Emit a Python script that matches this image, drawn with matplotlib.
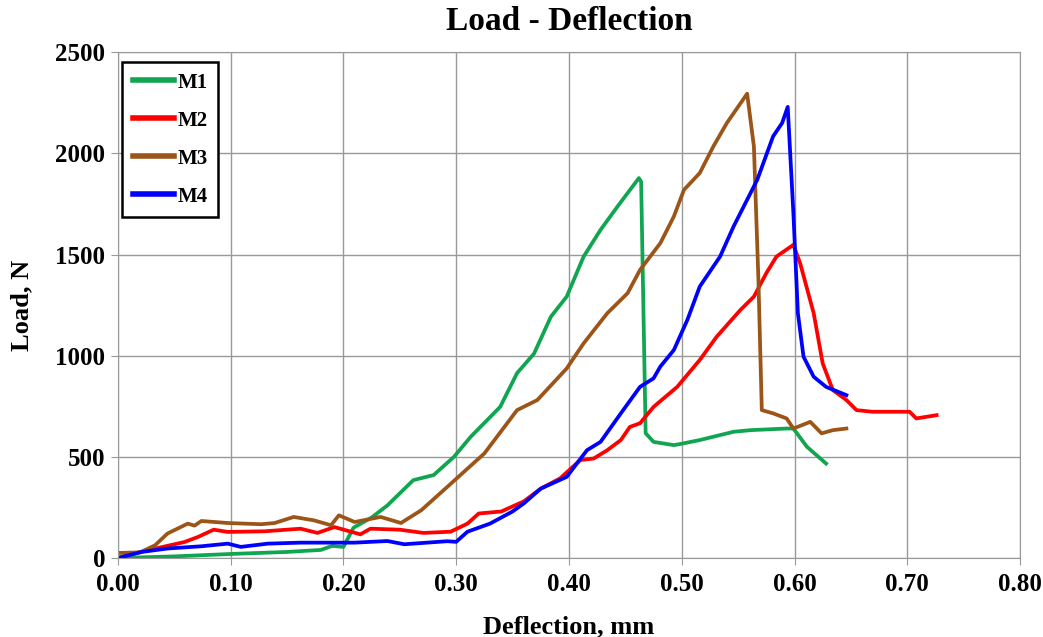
import matplotlib
matplotlib.use("Agg")
import matplotlib.pyplot as plt

plt.rcParams['font.family'] = ['Liberation Serif', 'DejaVu Serif']
plt.rcParams['font.weight'] = 'bold'

# deflection (mm) / load (N) for each specimen
m1_x = [0.0, 0.05, 0.10, 0.15, 0.18, 0.19, 0.20, 0.209, 0.225, 0.239, 0.262, 0.28, 0.298,
        0.313, 0.339, 0.354, 0.369, 0.384, 0.398, 0.413, 0.428, 0.443, 0.462, 0.464,
        0.468, 0.475, 0.493, 0.50, 0.516, 0.546, 0.561, 0.593, 0.599, 0.611, 0.628]
m1_y = [0, 8, 20, 30, 40, 60, 55, 150, 200, 260, 385, 410, 500,
        600, 747, 914, 1010, 1193, 1292, 1490, 1622, 1737, 1878, 1860,
        617, 574, 558, 565, 583, 624, 632, 640, 640, 550, 467]

m2_x = [0.0, 0.02, 0.059, 0.071, 0.085, 0.0975, 0.13, 0.162, 0.177, 0.192, 0.215, 0.224,
        0.25, 0.271, 0.295, 0.31, 0.32, 0.34, 0.36, 0.375, 0.392, 0.41, 0.422, 0.434, 0.446,
        0.454, 0.463, 0.475, 0.496, 0.516, 0.531, 0.552, 0.564, 0.575, 0.584, 0.599,
        0.605, 0.617, 0.625, 0.634, 0.646, 0.655, 0.669, 0.687, 0.702, 0.708, 0.726]
m2_y = [0, 30, 79, 104, 140, 129, 132, 145, 124, 153, 117, 145,
        140, 124, 130, 170, 220, 230, 280, 343, 393, 484, 492, 533, 583,
        648, 666, 747, 846, 979, 1094, 1226, 1292, 1408, 1490, 1548,
        1457, 1210, 962, 830, 781, 731, 723, 723, 723, 690, 706]

m3_x = [0.0, 0.02, 0.033, 0.044, 0.062, 0.068, 0.074, 0.0975, 0.127, 0.139, 0.156, 0.174,
        0.189, 0.196, 0.21, 0.233, 0.251, 0.269, 0.292, 0.325, 0.354, 0.372, 0.398, 0.413,
        0.434, 0.452, 0.463, 0.481, 0.493, 0.502, 0.516, 0.528, 0.54, 0.558,
        0.564, 0.568, 0.571, 0.581, 0.593, 0.599, 0.614, 0.624, 0.634, 0.646]
m3_y = [25, 28, 63, 121, 170, 160, 183, 173, 167, 173, 203, 186,
        162, 211, 178, 203, 173, 236, 351, 517, 731, 781, 937, 1061,
        1210, 1309, 1424, 1556, 1688, 1820, 1903, 2034, 2150, 2295,
        2034, 1375, 731, 715, 690, 640, 673, 616, 632, 640]

m4_x = [0.0, 0.021, 0.044, 0.074, 0.0975, 0.109, 0.133, 0.162, 0.21, 0.239, 0.254, 0.292,
        0.30, 0.31, 0.33, 0.35, 0.36, 0.375, 0.398, 0.416, 0.428, 0.446, 0.463, 0.475,
        0.481, 0.493, 0.505, 0.516, 0.534, 0.546, 0.558, 0.567, 0.581, 0.589, 0.594,
        0.599, 0.603, 0.608, 0.617, 0.628, 0.646]
m4_y = [0, 30, 47, 58, 71, 55, 71, 76, 76, 84, 68, 83,
        80, 130, 170, 230, 270, 343, 401, 533, 574, 715, 846, 888,
        946, 1028, 1177, 1342, 1490, 1639, 1771, 1870, 2084, 2150, 2230,
        1705, 1210, 995, 896, 846, 805]

series = [("M1", m1_x, m1_y, "#10A550"),
          ("M2", m2_x, m2_y, "#FF0000"),
          ("M3", m3_x, m3_y, "#9C5518"),
          ("M4", m4_x, m4_y, "#0000FF")]

fig = plt.figure(figsize=(10.43, 6.37), dpi=100)
ax = fig.add_axes([0.113, 0.124, 0.865, 0.794])

for name, xs, ys, col in series:
    ax.plot(xs, ys, color=col, lw=2.7, label=name, solid_joinstyle='round')

ax.set_xlim(0, 0.8)
ax.set_ylim(0, 2500)
ax.set_xticks([i / 10 for i in range(9)])
ax.set_xticklabels([f"{i / 10:.2f}" for i in range(9)])
ax.set_yticks(range(0, 2501, 500))
ax.grid(True, color="#999999", lw=1)
ax.set_axisbelow(True)
for s in ax.spines.values():
    s.set_color("#999999")
ax.tick_params(labelsize=18, length=5, color="#999999")
ax.tick_params(axis='x', pad=6)
ax.tick_params(axis='y', pad=4)

ax.set_title("Load - Deflection", fontsize=24, fontweight='bold', pad=16)
ax.set_xlabel("Deflection, mm", fontsize=19, fontweight='bold', labelpad=14)
ax.set_ylabel("Load, N", fontsize=19, fontweight='bold', labelpad=16)

leg = ax.legend(loc="upper left", fontsize=15, handlelength=2.0, handletextpad=0.15,
                labelspacing=0.86, borderpad=0.5, borderaxespad=0, fancybox=False,
                framealpha=1, bbox_to_anchor=(0.005, 0.98))
leg.get_frame().set_edgecolor("black")
leg.get_frame().set_linewidth(1.8)
for line in leg.get_lines():
    line.set_linewidth(4)

fig.savefig("out.png", dpi=100)
